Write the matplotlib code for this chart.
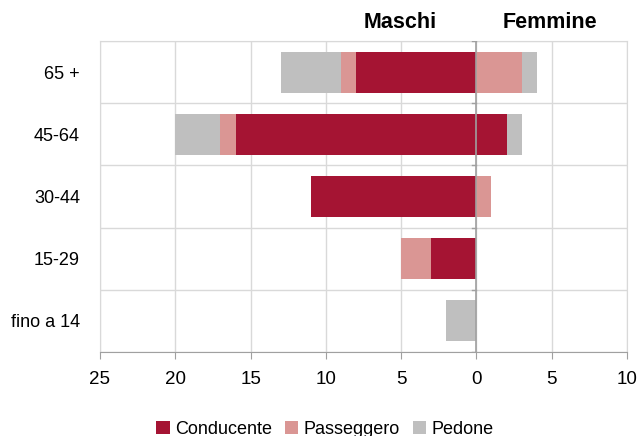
import numpy as np
import matplotlib
matplotlib.use('Agg')
import matplotlib.pyplot as plt

plt.rcParams['font.family'] = ['Liberation Sans', 'DejaVu Sans']

# ── Data ──────────────────────────────────────────────────────────────────────
categories = ['65 +', '45-64', '30-44', '15-29', 'fino a 14']
series     = ['Conducente', 'Passeggero', 'Pedone']
colors     = ['#A51433', '#DA9694', '#BFBFBF']

maschi  = {'Conducente': [8, 16, 11, 3, 0],
           'Passeggero': [1, 1, 0, 2, 0],
           'Pedone':     [4, 3, 0, 0, 2]}
femmine = {'Conducente': [0, 2, 0, 0, 0],
           'Passeggero': [3, 0, 1, 0, 0],
           'Pedone':     [1, 1, 0, 0, 0]}

xticks = [-25, -20, -15, -10, -5, 0, 5, 10]

# ── Plot ──────────────────────────────────────────────────────────────────────
fig = plt.figure(figsize=(6.4, 4.36), dpi=100)
ax = fig.add_axes([100/640, 1 - 352/436, 527/640, 311/436])

y = np.arange(len(categories))
left_m = np.zeros(len(categories))
left_f = np.zeros(len(categories))
for s, c in zip(series, colors):
    vm = -np.array(maschi[s], dtype=float)
    vf = np.array(femmine[s], dtype=float)
    ax.barh(y, vm, left=left_m, height=0.66, color=c, label=s, zorder=2)
    ax.barh(y, vf, left=left_f, height=0.66, color=c, zorder=2)
    left_m += vm
    left_f += vf

ax.set_xlim(-25, 10)
ax.set_ylim(len(categories) - 0.5, -0.5)
ax.set_yticks(y)
ax.set_yticklabels(categories, fontsize=13)
ax.tick_params(axis='y', length=0, pad=14.5)
ax.set_xticks(xticks)
ax.set_xticklabels([str(abs(t)) for t in xticks], fontsize=13.5)
ax.tick_params(axis='x', length=5, color='#A0A0A0', pad=9)

# grid
for xv in xticks:
    ax.axvline(xv, color='#D9D9D9', lw=1, zorder=0)
for b in np.arange(-0.5, len(categories), 1.0):
    ax.axhline(b, color='#D9D9D9', lw=1, zorder=0)
    ax.plot([-0.3, 0], [b, b], color='#A0A0A0', lw=1, zorder=3)

ax.axvline(0, color='#A0A0A0', lw=1.2, zorder=3)
for sp in ['top', 'left', 'right']:
    ax.spines[sp].set_color('#D9D9D9')
ax.spines['bottom'].set_color('#A0A0A0')

fig.text(400/640, 1 - 22/436, 'Maschi', fontsize=15.5, fontweight='bold',
         ha='center', va='center')
fig.text(550/640, 1 - 22/436, 'Femmine', fontsize=15.5, fontweight='bold',
         ha='center', va='center')

fig.legend(loc='center', bbox_to_anchor=(325/640, 1 - 429/436), ncol=3,
           frameon=False, fontsize=13, handlelength=0.75, handleheight=0.75,
           handletextpad=0.3, columnspacing=0.7)

fig.savefig('out.png', dpi=100)
